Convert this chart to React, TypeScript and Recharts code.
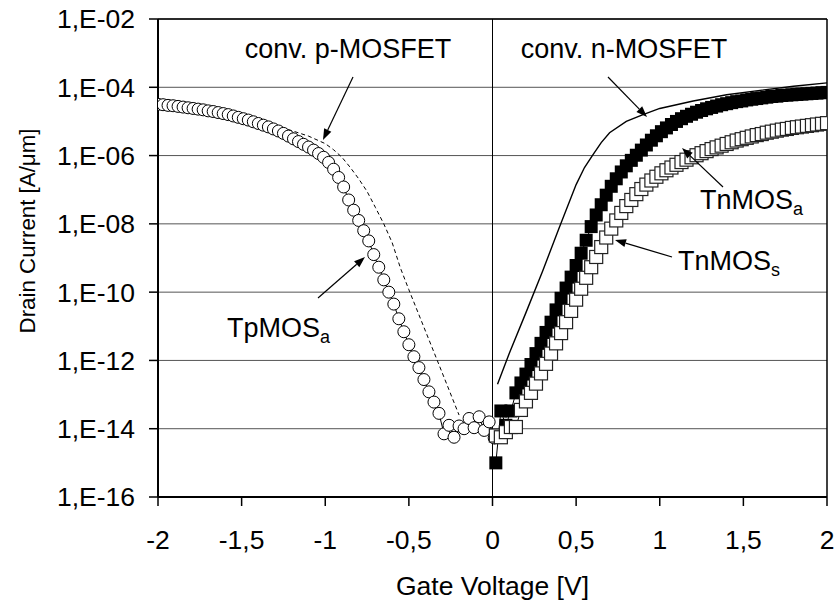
import React from "react"
import { LineChart, Line, XAxis, YAxis, CartesianGrid, ReferenceLine } from "recharts"

// gate voltage sweep of the TpMOS_a measurement [V]
const tpV = [
  -2, -1.97, -1.94, -1.91, -1.88, -1.85, -1.82, -1.79, -1.76, -1.73,
  -1.7, -1.67, -1.64, -1.61, -1.58, -1.55, -1.52, -1.49, -1.46, -1.43,
  -1.4, -1.37, -1.34, -1.31, -1.28, -1.25, -1.22, -1.19, -1.16, -1.13,
  -1.1, -1.07, -1.04, -1.01, -0.98, -0.95, -0.92, -0.89, -0.86, -0.83,
  -0.8, -0.77, -0.74, -0.71, -0.68, -0.65, -0.62, -0.59, -0.56, -0.53,
  -0.5, -0.47, -0.44, -0.41, -0.38, -0.35, -0.32, -0.29, -0.26, -0.23,
  -0.2, -0.17, -0.14, -0.11, -0.08, -0.05, -0.02, 0.01,
]
// log10 of drain current [A/µm]
const tpLog = [
  -4.5, -4.51, -4.53, -4.54, -4.56, -4.58, -4.6, -4.62, -4.64, -4.66,
  -4.69, -4.71, -4.74, -4.77, -4.8, -4.84, -4.88, -4.92, -4.96, -5.01,
  -5.06, -5.11, -5.16, -5.22, -5.28, -5.35, -5.43, -5.51, -5.59, -5.67,
  -5.75, -5.84, -5.94, -6.05, -6.2, -6.4, -6.64, -6.92, -7.3, -7.6,
  -7.9, -8.2, -8.5, -8.9, -9.27, -9.64, -10.0, -10.35, -10.78, -11.16,
  -11.54, -11.89, -12.21, -12.56, -12.92, -13.22, -13.55, -14.15, -13.9, -14.25,
  -13.92, -14.0, -13.7, -13.97, -13.65, -14.05, -13.8, -14.27,
]

// gate voltage sweep of the TnMOS devices [V]
const nV = [
  0.02, 0.05, 0.08, 0.11, 0.14, 0.17, 0.2, 0.23, 0.26, 0.29,
  0.32, 0.35, 0.38, 0.41, 0.44, 0.47, 0.5, 0.53, 0.56, 0.59,
  0.62, 0.65, 0.68, 0.71, 0.74, 0.77, 0.8, 0.83, 0.86, 0.89,
  0.92, 0.95, 0.98, 1.01, 1.04, 1.07, 1.1, 1.13, 1.16, 1.19,
  1.22, 1.25, 1.28, 1.31, 1.34, 1.37, 1.4, 1.43, 1.46, 1.49,
  1.52, 1.55, 1.58, 1.61, 1.64, 1.67, 1.7, 1.73, 1.76, 1.79,
  1.82, 1.85, 1.88, 1.91, 1.94, 1.97, 2.0,
]
const tnaLog = [
  -15.0, -13.48, -13.9, -13.48, -12.95, -12.66, -12.4, -12.12, -11.8, -11.5,
  -11.18, -10.88, -10.52, -10.18, -9.88, -9.56, -9.22, -8.86, -8.48, -8.08,
  -7.74, -7.44, -7.16, -6.9, -6.68, -6.48, -6.3, -6.14, -5.99, -5.84,
  -5.69, -5.55, -5.42, -5.3, -5.19, -5.09, -5.0, -4.92, -4.85, -4.79,
  -4.73, -4.68, -4.63, -4.59, -4.55, -4.51, -4.48, -4.45, -4.42, -4.4,
  -4.37, -4.35, -4.33, -4.31, -4.29, -4.27, -4.26, -4.24, -4.23, -4.22,
  -4.21, -4.2, -4.19, -4.18, -4.17, -4.16, -4.15,
]
const tnsLog = [
  -14.2, -14.25, -14.1, -13.95, -13.95, -13.45, -13.2, -12.95, -12.68, -12.38,
  -12.1, -11.8, -11.5, -11.2, -10.88, -10.55, -10.22, -9.9, -9.58, -9.27,
  -8.97, -8.68, -8.4, -8.14, -7.9, -7.68, -7.48, -7.3, -7.13, -6.98,
  -6.85, -6.73, -6.62, -6.52, -6.43, -6.35, -6.27, -6.19, -6.12, -6.05,
  -5.99, -5.93, -5.87, -5.81, -5.76, -5.71, -5.66, -5.61, -5.56, -5.52,
  -5.48, -5.44, -5.4, -5.37, -5.33, -5.3, -5.27, -5.24, -5.22, -5.19,
  -5.17, -5.15, -5.13, -5.11, -5.09, -5.07, -5.05,
]

// conventional MOSFETs (simulated curves)
const cpV = [-2, -1.8, -1.6, -1.4, -1.2, -1.1, -1.0, -0.95, -0.9, -0.85, -0.8, -0.75, -0.7, -0.65, -0.6, -0.55, -0.5, -0.4, -0.3, -0.2]
const cpLog = [-4.45, -4.55, -4.72, -4.97, -5.27, -5.43, -5.65, -5.83, -6.05, -6.35, -6.68, -7.05, -7.52, -8.0, -8.55, -9.3, -9.93, -11.15, -12.37, -13.6]
const cnV = [0.03, 0.1, 0.2, 0.3, 0.4, 0.5, 0.55, 0.6, 0.65, 0.7, 0.8, 0.9, 1.0, 1.2, 1.4, 1.6, 1.8, 2.0]
const cnLog = [-12.7, -11.8, -10.6, -9.38, -8.1, -6.85, -6.35, -5.98, -5.62, -5.33, -5.0, -4.8, -4.62, -4.4, -4.22, -4.09, -3.97, -3.87]

const xTicks = [-2, -1.5, -1, -0.5, 0, 0.5, 1, 1.5, 2]
const yTicks = [1e-16, 1e-14, 1e-12, 1e-10, 1e-8, 1e-6, 1e-4, 1e-2]

const toPoints = (vs: number[], logs: number[]) => vs.map((v, k) => ({ v, i: Math.pow(10, logs[k]) }))

const tpData = toPoints(tpV, tpLog)
const tnaData = toPoints(nV, tnaLog)
const tnsData = toPoints(nV, tnsLog)
const cpData = toPoints(cpV, cpLog)
const cnData = toPoints(cnV, cnLog)

const FONT = "'Liberation Sans', Arial, sans-serif"

const fmtX = (v: number) => String(v).replace(".", ",")
const fmtY = (v: number) => {
  const e = Math.round(Math.log10(v))
  return `1,E${e < 0 ? "-" : "+"}${String(Math.abs(e)).padStart(2, "0")}`
}

const FilledSquare = (props: any) => {
  const { cx, cy } = props
  if (cx == null || cy == null) return <g />
  return <rect x={cx - 6.5} y={cy - 6.5} width={13} height={13} fill="#000" />
}

const OpenSquare = (props: any) => {
  const { cx, cy } = props
  if (cx == null || cy == null) return <g />
  return <rect x={cx - 6.5} y={cy - 6.5} width={13} height={13} fill="#fff" stroke="#222" strokeWidth={1.2} />
}

function Arrow({ x1, y1, x2, y2 }: { x1: number; y1: number; x2: number; y2: number }) {
  const a = Math.atan2(y2 - y1, x2 - x1)
  const len = 11
  const w = 4
  const bx = x2 - len * Math.cos(a)
  const by = y2 - len * Math.sin(a)
  const px = -Math.sin(a) * w
  const py = Math.cos(a) * w
  return (
    <g>
      <line x1={x1} y1={y1} x2={bx} y2={by} stroke="#000" strokeWidth={1.2} />
      <polygon points={`${x2},${y2} ${bx + px},${by + py} ${bx - px},${by - py}`} fill="#000" />
    </g>
  )
}

export default function App() {
  return (
    <div style={{ position: "absolute", left: 0, top: 0, width: 838, height: 603, background: "#fff", fontFamily: FONT }}>
      <LineChart width={838} height={603} margin={{ top: 19, right: 11, bottom: 46, left: 58 }}>
        <CartesianGrid vertical={false} stroke="#555" strokeWidth={1} />
        <XAxis
          type="number"
          dataKey="v"
          domain={[-2, 2]}
          ticks={xTicks}
          tickFormatter={fmtX}
          height={60}
          tickSize={9}
          tickMargin={24}
          axisLine={{ stroke: "#000", strokeWidth: 2 }}
          tickLine={{ stroke: "#000", strokeWidth: 1.5 }}
          tick={{ fontSize: 26.5, fill: "#000", fontFamily: FONT }}
          allowDataOverflow
        />
        <YAxis
          type="number"
          scale="log"
          domain={[1e-16, 1e-2]}
          ticks={yTicks}
          tickFormatter={fmtY}
          width={100}
          tickSize={9}
          tickMargin={14}
          axisLine={{ stroke: "#000", strokeWidth: 2 }}
          tickLine={{ stroke: "#000", strokeWidth: 1.5 }}
          tick={{ fontSize: 26.5, fill: "#000", fontFamily: FONT }}
          allowDataOverflow
        />
        <ReferenceLine y={1e-2} stroke="#000" strokeWidth={1.5} />
        <ReferenceLine x={2} stroke="#000" strokeWidth={1.5} />
        <ReferenceLine x={0} stroke="#000" strokeWidth={1} />

        <Line data={cpData} dataKey="i" stroke="#000" strokeWidth={1} strokeDasharray="4 3" dot={false} isAnimationActive={false} />
        <Line data={cnData} dataKey="i" stroke="#000" strokeWidth={1.4} dot={false} isAnimationActive={false} />
        <Line
          data={tpData}
          dataKey="i"
          stroke="#000"
          strokeWidth={1}
          dot={{ r: 6, fill: "#fff", stroke: "#000", strokeWidth: 1 }}
          isAnimationActive={false}
        />
        <Line data={tnaData} dataKey="i" stroke="#000" strokeWidth={1} dot={<FilledSquare />} isAnimationActive={false} />
        <Line data={tnsData} dataKey="i" stroke="#000" strokeWidth={1} dot={<OpenSquare />} isAnimationActive={false} />
      </LineChart>

      <svg width={838} height={603} style={{ position: "absolute", left: 0, top: 0, pointerEvents: "none" }} fontFamily={FONT}>
        <text x={492.5} y={595} textAnchor="middle" fontSize={26.5} fill="#000">Gate Voltage [V]</text>
        <text transform="translate(35,231) rotate(-90)" textAnchor="middle" fontSize={22.3} fill="#000">Drain Current [A/μm]</text>

        <text x={348} y={58} textAnchor="middle" fontSize={27} fill="#000">conv. p-MOSFET</text>
        <text x={624} y={58} textAnchor="middle" fontSize={27} fill="#000">conv. n-MOSFET</text>
        <text x={700} y={209} fontSize={27} fill="#000">
          TnMOS<tspan fontSize={18} dy={6}>a</tspan>
        </text>
        <text x={678} y={270} fontSize={27} fill="#000">
          TnMOS<tspan fontSize={18} dy={6}>s</tspan>
        </text>
        <text x={227} y={337} fontSize={27} fill="#000">
          TpMOS<tspan fontSize={18} dy={6}>a</tspan>
        </text>

        <Arrow x1={353} y1={77} x2={323} y2={140} />
        <Arrow x1={608} y1={77} x2={647} y2={117} />
        <Arrow x1={723} y1={187} x2={682} y2={148} />
        <Arrow x1={672} y1={257} x2={615} y2={240} />
        <Arrow x1={318} y1={298} x2={365} y2={257} />
      </svg>
    </div>
  )
}
